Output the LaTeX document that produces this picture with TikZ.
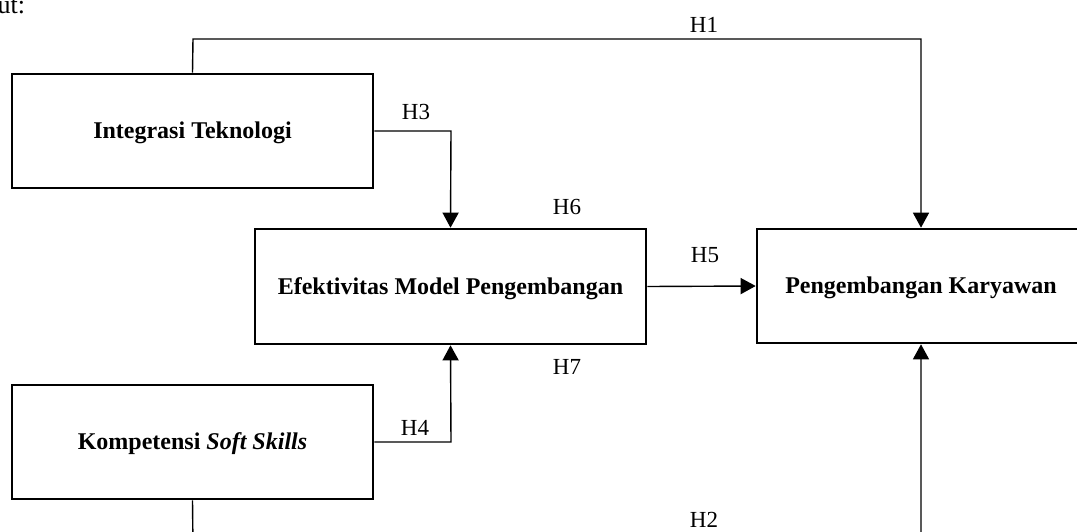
\documentclass[tikz,border=0pt]{standalone}
\usepackage{fontspec}
\setmainfont{Liberation Serif}
\usetikzlibrary{arrows.meta}
\begin{document}
\begin{tikzpicture}[x=1pt,y=-1pt,
  varbox/.style={draw, line width=2.6pt, rectangle, inner sep=0pt,
    text height=15.9pt, text depth=0pt,
    font=\fontsize{24}{28}\selectfont\bfseries, align=center},
  conn/.style={line width=1.4pt, -{Triangle[width=16pt,length=15pt]}},
  hlabel/.style={font=\fontsize{23}{27}\selectfont, inner sep=0pt}]
\useasboundingbox (0,0) rectangle (1077,531);
% partial text from page
\node[anchor=base west, inner sep=0pt, font=\fontsize{26}{30}\selectfont] (ut) at (-2.5,13) {ut:};
% boxes
\node[varbox, minimum width=361pt, minimum height=114pt] (it) at (192.5,131) {Integrasi Teknologi};
\node[varbox, minimum width=391pt, minimum height=115pt] (ef) at (450.5,286.5) {Efektivitas Model Pengembangan};
\node[varbox, minimum width=328pt, minimum height=114pt] (pk) at (921,286) {Pengembangan Karyawan};
\node[varbox, minimum width=361pt, minimum height=114pt] (ks) at (192.5,442) {Kompetensi \textit{Soft Skills}};
% helper coordinates
\coordinate (h1a) at (193,39);
\coordinate (h1b) at (921,39);
\coordinate (h3a) at (451,131);
\coordinate (h4a) at (451,442);
\coordinate (h2a) at (193,548);
\coordinate (h2b) at (921,548);
% connectors
\draw[conn] (it.north) -- (h1a) -- (h1b) -- (pk.north);
\draw[conn] (it.east) -- (h3a) -- (ef.north);
\draw[conn] (ks.east) -- (h4a) -- (ef.south);
\draw[conn] (ef.east) -- (pk.west);
\draw[conn] (ks.south) -- (h2a) -- (h2b) -- (pk.south);
% labels
\node[hlabel] (l1) at (704,25) {H1};
\node[hlabel] (l3) at (416,112) {H3};
\node[hlabel] (l6) at (567,207) {H6};
\node[hlabel] (l5) at (705,255) {H5};
\node[hlabel] (l7) at (567,367) {H7};
\node[hlabel] (l4) at (415,428) {H4};
\node[hlabel] (l2) at (704,519.5) {H2};
\end{tikzpicture}
\end{document}
